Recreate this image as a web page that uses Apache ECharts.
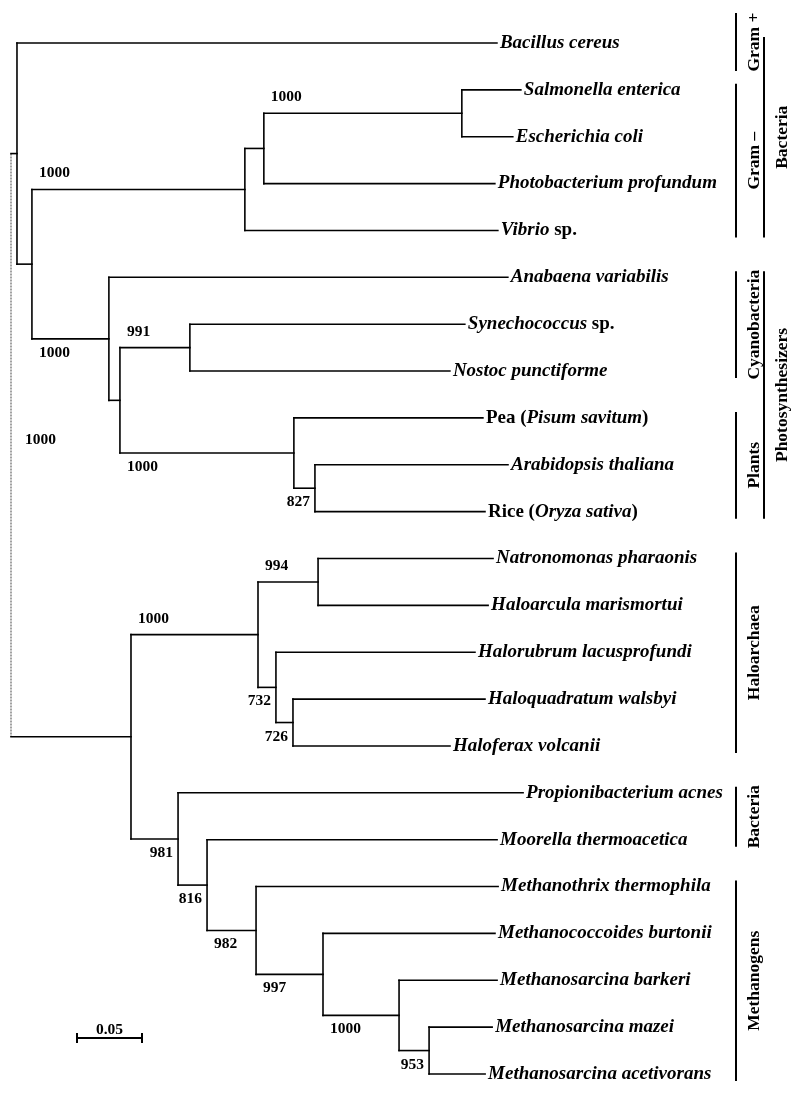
<!DOCTYPE html>
<html><head><meta charset="utf-8">
<script src="https://cdn.jsdelivr.net/npm/echarts@6/dist/echarts.min.js"></script>
<style>html,body{margin:0;padding:0;background:#fff}#c{width:796px;height:1095px}</style>
</head><body><div id="c"></div>
<script>
// ---------- DATA ----------
// leaves, top to bottom (rich text: i = italic, r = roman)
const taxa = [
  '{i|Bacillus cereus}',
  '{i|Salmonella enterica}',
  '{i|Escherichia coli}',
  '{i|Photobacterium profundum}',
  '{i|Vibrio}{r| sp.}',
  '{i|Anabaena variabilis}',
  '{i|Synechococcus}{r| sp.}',
  '{i|Nostoc punctiforme}',
  '{r|Pea (}{i|Pisum savitum}{r|)}',
  '{i|Arabidopsis thaliana}',
  '{r|Rice (}{i|Oryza sativa}{r|)}',
  '{i|Natronomonas pharaonis}',
  '{i|Haloarcula marismortui}',
  '{i|Halorubrum lacusprofundi}',
  '{i|Haloquadratum walsbyi}',
  '{i|Haloferax volcanii}',
  '{i|Propionibacterium acnes}',
  '{i|Moorella thermoacetica}',
  '{i|Methanothrix thermophila}',
  '{i|Methanococcoides burtonii}',
  '{i|Methanosarcina barkeri}',
  '{i|Methanosarcina mazei}',
  '{i|Methanosarcina acetivorans}'
];
const taxonParent = ['A','F','F','E','C','D','H','H','I','J','J','N','N','O','P','P','M','Q','R','S','T','U','U'];
const taxonBranch = [0.3692,0.0454,0.0392,0.1777,0.1946,0.3069,0.2115,0.2000,0.1454,0.1485,0.1308,
                     0.1346,0.1308,0.1531,0.1477,0.1208,0.2654,0.2231,0.1862,0.1323,0.0754,0.0485,0.0431];
// internal clades
const cladeNames   = ['root','A','B','C','E','F','D','G','H','I','J','K','L','N','O','P','M','Q','R','S','T','U'];
const cladeParent  = [null,'root','A','B','C','E','B','D','G','G','I','root','K','L','L','O','K','M','Q','R','S','T'];
const cladeBranch  = [0,0.0046,0.0115,0.1638,0.0146,0.1523,0.0592,0.0085,0.0538,0.1338,0.0162,
                      0.0923,0.0977,0.0462,0.0138,0.0131,0.0362,0.0223,0.0377,0.0515,0.0585,0.0231];
const cladeSupport = [1000,null,null,1000,null,1000,1000,null,991,1000,827,
                      null,1000,994,732,726,981,816,982,997,1000,953];
// right-hand group brackets
const groupNames = ['Gram +','Gram –','Bacteria','Cyanobacteria','Plants','Photosynthesizers','Haloarchaea','Bacteria','Methanogens'];
const groupFirst = [0,1,0,5,8,5,11,16,18];
const groupLast  = [0,4,4,7,10,10,15,17,22];
const groupLevel = [0,0,1,0,0,1,0,0,0];
const scaleBarLength = 0.05;
const scaleBarLabel = '0.05';

// ---------- TREE LAYOUT ----------
const nodes = {};
cladeNames.forEach((n,i)=>nodes[n]={name:n,parent:cladeParent[i],len:cladeBranch[i],support:cladeSupport[i],children:[]});
taxa.forEach((t,i)=>nodes['t'+i]={name:'t'+i,parent:taxonParent[i],len:taxonBranch[i],leaf:i,children:[]});
Object.values(nodes).forEach(n=>{ if(n.parent) nodes[n.parent].children.push(n); });
function depth(n){ return n.parent ? depth(nodes[n.parent]) + n.len : n.len; }
function yOf(n){ if(n.leaf!==undefined) return n.leaf; const ys=n.children.map(yOf); return (Math.min(...ys)+Math.max(...ys))/2; }
Object.values(nodes).forEach(n=>{ n.x = depth(n); });
Object.values(nodes).forEach(n=>{ n.y = yOf(n); });

const branchData = [];
const supportData = [];
const leafData = [];
Object.values(nodes).forEach(n=>{
  if(n.parent){
    const p = nodes[n.parent];
    branchData.push([p.x, n.y, n.x, n.y, 0]);
  }
  if(n.children.length){
    const ys = n.children.map(c=>c.y);
    branchData.push([n.x, Math.min(...ys), n.x, Math.max(...ys), n.parent?0:1]);
  }
  if(n.leaf!==undefined) leafData.push([n.x, n.y, n.leaf]);
  if(n.support){
    const p = n.parent ? nodes[n.parent] : n;
    supportData.push([p.x, n.x, n.y, n.parent ? (n.y < p.y ? 1 : 0) : 2, n.support]);
  }
});
const groupData = groupNames.map((g,i)=>[groupFirst[i], groupLast[i], groupLevel[i], i]);

// ---------- STYLE ----------
const SERIF = '"Liberation Serif","Times New Roman",serif';
const LW = 1.6;

const chart = echarts.init(document.getElementById('c'), null, {renderer:'canvas'});
chart.setOption({
  backgroundColor:'#fff',
  animation:false,
  grid:{left:11, right:5, top:43, bottom:21},
  xAxis:{type:'value', min:0, max:0.6, show:false},
  yAxis:{type:'value', min:0, max:22, inverse:true, show:false},
  series:[
    { type:'custom', name:'branches', data:branchData, silent:true,
      renderItem:(p,api)=>{
        const a=api.coord([api.value(0),api.value(1)]), b=api.coord([api.value(2),api.value(3)]);
        const dotted = api.value(4)===1;
        return {type:'line', shape:{x1:a[0],y1:a[1],x2:b[0],y2:b[1]},
          style:{stroke: dotted?'#555':'#000', lineWidth: dotted?1.1:LW, lineDash: dotted?[2,1]:null, lineCap: dotted?'butt':'square'}};
      }},
    { type:'custom', name:'taxa', data:leafData, silent:true,
      renderItem:(p,api)=>{
        const a=api.coord([api.value(0),api.value(1)]);
        return {type:'text', x:a[0]+3, y:a[1],
          style:{text:taxa[api.value(2)], align:'left', verticalAlign:'middle', fill:'#000',
            rich:{
              i:{fontFamily:SERIF, fontSize:19, fontStyle:'italic', fontWeight:'bold', fill:'#000'},
              r:{fontFamily:SERIF, fontSize:19, fontWeight:'bold', fill:'#000'}
            }}};
      }},
    { type:'custom', name:'support', data:supportData, silent:true,
      renderItem:(p,api)=>{
        const px=api.coord([api.value(0),api.value(2)]), cx=api.coord([api.value(1),api.value(2)]);
        const pos=api.value(3);
        let x, y, align;
        if(pos===2){ x=px[0]+14; y=px[1]-5; align='left'; }
        else {
          y = pos===1 ? cx[1]-16 : cx[1]+14;
          if(cx[0]-px[0] < 48){ x=cx[0]-5; align='right'; } else { x=px[0]+7; align='left'; }
        }
        return {type:'text', x:x, y:y, style:{text:String(api.value(4)), align:align, verticalAlign:'middle',
          fill:'#000', font:'bold 15.5px '+SERIF}};
      }},
    { type:'custom', name:'groups', data:groupData, silent:true,
      renderItem:(p,api)=>{
        const f=api.value(0), l=api.value(1), lev=api.value(2), idx=api.value(3);
        const top=api.coord([0,f])[1] - (f===l?30:6);
        const bot=api.coord([0,l])[1] + (f===l?28:7);
        const lx = lev ? 764 : 736;
        const tx = lev ? 782 : 754;
        return {type:'group', children:[
          {type:'line', shape:{x1:lx,y1:top,x2:lx,y2:bot}, style:{stroke:'#000', lineWidth:2}},
          {type:'text', x:tx, y:(top+bot)/2, rotation:Math.PI/2,
            style:{text:groupNames[idx], align:'center', verticalAlign:'middle', fill:'#000', font:'bold 17.5px '+SERIF}}
        ]};
      }},
    { type:'custom', name:'scale', data:[[scaleBarLength]], silent:true,
      renderItem:(p,api)=>{
        const w = api.size([api.value(0),0])[0];
        const x0=77, y0=1038;
        return {type:'group', children:[
          {type:'line', shape:{x1:x0,y1:y0,x2:x0+w,y2:y0}, style:{stroke:'#000',lineWidth:2}},
          {type:'line', shape:{x1:x0,y1:y0-5,x2:x0,y2:y0+5}, style:{stroke:'#000',lineWidth:2}},
          {type:'line', shape:{x1:x0+w,y1:y0-5,x2:x0+w,y2:y0+5}, style:{stroke:'#000',lineWidth:2}},
          {type:'text', x:x0+w/2, y:y0-8, style:{text:scaleBarLabel, align:'center', verticalAlign:'middle', fill:'#000', font:'bold 15.5px '+SERIF}}
        ]};
      }}
  ]
});
</script>
</body></html>
